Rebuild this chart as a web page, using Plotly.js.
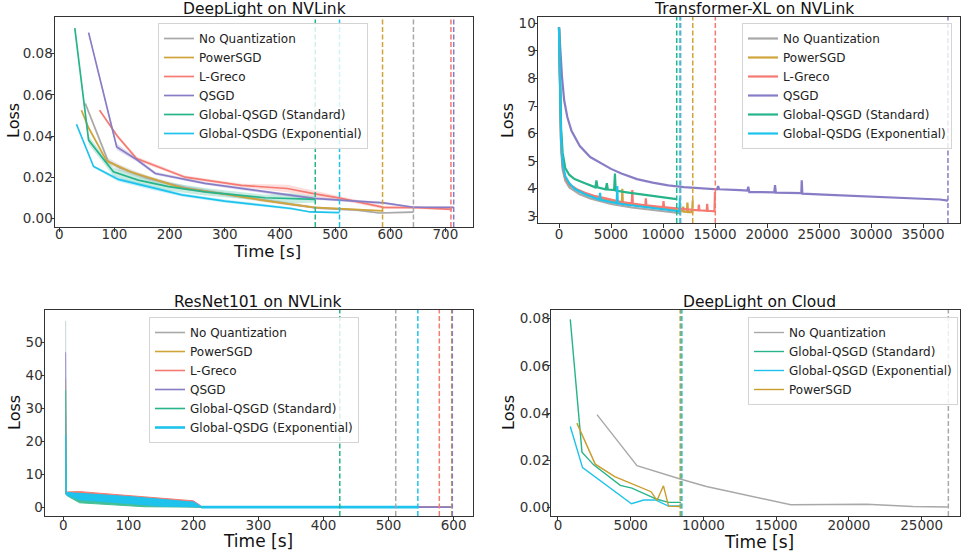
<!DOCTYPE html>
<html><head><meta charset="utf-8">
<script src="https://cdn.plot.ly/plotly-3.0.1.min.js"></script>
<style>html,body{margin:0;padding:0;background:#fff;overflow:hidden}#chart{width:962px;height:552px}</style>
</head><body><div id="chart"></div>
<script>
// ---------- series names / colours ----------
const names6 = ['No Quantization','PowerSGD','L-Greco','QSGD','Global-QSGD (Standard)','Global-QSDG (Exponential)'];
const colors6 = ['#a8a8a8','#cfa43a','#f47a72','#877dc6','#27b48a','#1dc3ec'];

// ---------- DeepLight on NVLink ----------
const dl_nq_t = [47, 88, 110, 160, 230, 330, 420, 470, 540, 580, 642];
const dl_nq_loss = [0.0558, 0.0280, 0.0245, 0.0195, 0.0148, 0.0105, 0.0068, 0.0050, 0.0040, 0.0026, 0.0030];
const dl_nq_err = [0.001, 0.0015, 0.0015, 0.0012, 0.001, 0.001, 0.0008, 0.0006, 0.0005, 0.0004, 0.0004];
const dl_psgd_t = [40, 53, 86, 130, 222, 300, 373, 461, 515, 587];
const dl_psgd_loss = [0.0525, 0.0440, 0.0278, 0.0225, 0.0148, 0.0118, 0.0086, 0.0053, 0.0046, 0.0036];
const dl_psgd_err = [0.0005, 0.0006, 0.0008, 0.0008, 0.0007, 0.0006, 0.0006, 0.0005, 0.0004, 0.0003];
const dl_lg_t = [73, 105, 140, 228, 330, 413, 461, 509, 588, 650, 712];
const dl_lg_loss = [0.0525, 0.0400, 0.0291, 0.0200, 0.0160, 0.0145, 0.0120, 0.0098, 0.0053, 0.0052, 0.0044];
const dl_lg_err = [0.0005, 0.0008, 0.001, 0.0008, 0.0008, 0.0018, 0.0015, 0.001, 0.0008, 0.0006, 0.0006];
const dl_qsgd_t = [53, 104, 140, 174, 264, 373, 461, 509, 588, 642, 715];
const dl_qsgd_loss = [0.0902, 0.0347, 0.0286, 0.0218, 0.0170, 0.0128, 0.0097, 0.0089, 0.0075, 0.0054, 0.0053];
const dl_qsgd_err = [0.0005, 0.0015, 0.001, 0.0008, 0.0007, 0.0007, 0.0007, 0.0006, 0.0006, 0.0005, 0.0005];
const dl_gstd_t = [28, 53, 98, 143, 198, 264, 373, 420, 464];
const dl_gstd_loss = [0.0924, 0.0380, 0.0226, 0.0186, 0.0154, 0.0129, 0.0100, 0.0097, 0.0092];
const dl_gstd_err = [0.0005, 0.002, 0.002, 0.0025, 0.002, 0.0018, 0.0015, 0.0025, 0.0015];
const dl_gexp_t = [31, 62, 107, 165, 222, 300, 373, 420, 455, 508];
const dl_gexp_loss = [0.0457, 0.0252, 0.0189, 0.0150, 0.0114, 0.0084, 0.0063, 0.0048, 0.0031, 0.0028];
const dl_gexp_err = [0.0004, 0.0006, 0.001, 0.001, 0.0008, 0.0008, 0.0008, 0.0006, 0.0004, 0.0003];
const dl_end_t = [642, 586, 710, 715, 464, 508];

// ---------- Transformer-XL on NVLink ----------
const txl_nq_t = [0, 80, 200, 350, 600, 1000, 2000, 3000, 5000, 7000, 9000, 10500, 11500, 11700];
const txl_nq_loss = [9.85, 7.2, 5.5, 4.7, 4.3, 4.05, 3.8, 3.65, 3.45, 3.32, 3.22, 3.15, 3.12, 3.12];
const txl_psgd_t = [0, 80, 200, 350, 600, 1000, 2000, 3000, 4500, 6050, 6090, 6130, 8000, 10000, 11500, 11900, 11950, 12000, 12300, 12350, 12400, 12800, 12860];
const txl_psgd_loss = [9.85, 7.5, 5.75, 4.85, 4.4, 4.15, 3.9, 3.75, 3.6, 3.5, 4.0, 3.5, 3.38, 3.3, 3.2, 3.18, 3.35, 3.17, 3.16, 3.5, 3.15, 3.15, 3.58];
const txl_lg_t = [0, 80, 200, 350, 600, 1000, 1700, 2500, 3500, 4600, 5400, 6000, 7000, 7050, 7100, 8300, 8350, 8400, 9500, 10000, 10050, 10100, 11000, 12000, 13400, 13450, 13500, 14200, 14250, 14300, 14950, 15000];
const txl_lg_loss = [9.85, 7.4, 5.7, 4.8, 4.4, 4.15, 3.98, 3.85, 3.73, 3.64, 3.57, 3.52, 3.47, 3.95, 3.46, 3.4, 3.65, 3.4, 3.35, 3.33, 3.55, 3.33, 3.3, 3.26, 3.22, 3.42, 3.22, 3.2, 3.45, 3.2, 3.18, 3.88];
const txl_qsgd_t = [0, 150, 300, 500, 800, 1200, 2000, 3000, 4000, 5000, 6000, 7500, 9000, 10500, 12000, 14000, 15200, 15300, 15400, 17400, 18100, 18200, 18300, 20700, 20770, 20850, 23300, 23340, 23400, 26000, 28000, 30200, 32500, 35000, 36600, 37400];
const txl_qsgd_loss = [9.85, 8.8, 8.0, 7.2, 6.6, 6.1, 5.55, 5.15, 4.92, 4.72, 4.55, 4.35, 4.22, 4.12, 4.06, 4.0, 3.98, 4.1, 3.98, 3.95, 3.93, 4.07, 3.88, 3.87, 4.13, 3.86, 3.84, 4.31, 3.82, 3.78, 3.75, 3.72, 3.68, 3.63, 3.61, 3.57];
const txl_gstd_t = [0, 80, 200, 350, 600, 1000, 1500, 2500, 3500, 3600, 3700, 4500, 4600, 4700, 5300, 5380, 5450, 6500, 7500, 8500, 9500, 10500, 11000, 11300];
const txl_gstd_loss = [9.85, 8.0, 6.2, 5.3, 4.75, 4.5, 4.35, 4.2, 4.05, 4.3, 4.05, 3.98, 4.2, 3.97, 3.95, 4.55, 3.93, 3.87, 3.82, 3.75, 3.72, 3.66, 3.63, 3.62];
const txl_gexp_t = [0, 80, 200, 350, 600, 1000, 1500, 2500, 3500, 3900, 3950, 4000, 5000, 5550, 5600, 5650, 6500, 8000, 9500, 10500, 11300, 11580, 11630];
const txl_gexp_loss = [9.85, 7.6, 5.8, 4.9, 4.45, 4.2, 4.0, 3.8, 3.65, 3.6, 3.85, 3.6, 3.52, 3.48, 4.1, 3.47, 3.42, 3.35, 3.28, 3.24, 3.2, 3.18, 3.65];
const txl_end_t = [11700, 12860, 15030, 37400, 11320, 11630];

// ---------- ResNet101 on NVLink ----------
const rn_band_t = [3.5, 4.5, 6, 25, 50, 75, 100, 125, 150, 175, 200, 212];
const rn_nq_hi   = [56.5, 4.6, 4.4, 4.3, 3.9, 3.5, 3.1, 2.7, 2.2, 1.8, 1.4, 0.2];
const rn_nq_lo   = [4.2, 4.0, 3.8, 2.3, 1.8, 1.4, 1.0, 0.7, 0.4, 0.3, 0.2, 0.1];
const rn_psgd_hi = [39, 4.6, 4.5, 4.4, 4.0, 3.6, 3.2, 2.8, 2.4, 2.0, 1.6, 0.3];
const rn_psgd_lo = [4.2, 4.0, 3.8, 2.2, 1.8, 1.3, 1.0, 0.7, 0.4, 0.3, 0.2, 0.1];
const rn_lg_hi   = [28, 4.7, 4.7, 4.8, 4.4, 4.0, 3.6, 3.2, 2.8, 2.4, 2.0, 0.4];
const rn_lg_lo   = [4.2, 4.0, 3.9, 2.5, 2.0, 1.6, 1.2, 0.9, 0.6, 0.4, 0.3, 0.1];
const rn_qsgd_hi = [47, 4.5, 4.3, 4.0, 3.6, 3.2, 2.8, 2.4, 2.0, 1.7, 1.8, 0.2];
const rn_qsgd_lo = [4.2, 4.0, 3.7, 2.0, 1.6, 1.2, 0.9, 0.5, 0.3, 0.2, 0.2, 0.1];
const rn_gstd_hi = [35.5, 4.5, 4.2, 3.9, 3.5, 3.1, 2.6, 2.2, 1.6, 1.2, 0.9, 0.1];
const rn_gstd_lo = [4.0, 3.8, 3.5, 1.4, 1.1, 0.8, 0.5, 0.2, 0.1, 0.1, 0.1, 0.05];
const rn_gexp_hi = [22, 4.6, 4.5, 4.3, 3.9, 3.6, 3.3, 2.9, 2.5, 2.0, 1.6, 0.3];
const rn_gexp_lo = [4.2, 4.0, 3.7, 2.3, 1.9, 1.5, 1.2, 0.8, 0.4, 0.3, 0.2, 0.1];
const rn_tail_start = 212;
const rn_tail_loss = [0.1, 0.1, 0.1, 0.1, 0.1, 0.1];
const rn_end_t = [511, 597, 578, 598, 425, 545];

// ---------- DeepLight on Cloud ----------
const names4 = ['No Quantization','Global-QSGD (Standard)','Global-QSGD (Exponential)','PowerSGD'];
const colors4 = ['#a8a8a8','#27b48a','#1dc3ec','#c99c2c'];
const dc_nq_t = [2680, 5430, 8400, 10200, 16000, 21200, 24400, 26800];
const dc_nq_loss = [0.0393, 0.0177, 0.0120, 0.0088, 0.0011, 0.0013, 0.0003, 0.0001];
const dc_gstd_t = [845, 1650, 2450, 4280, 5080, 6340, 6800, 7600, 8450];
const dc_gstd_loss = [0.0797, 0.0234, 0.0180, 0.0093, 0.0081, 0.0046, 0.0034, 0.0021, 0.0021];
const dc_gexp_t = [845, 1690, 5050, 5900, 6700, 7550, 8500];
const dc_gexp_loss = [0.0343, 0.0168, 0.0015, 0.0031, 0.0031, 0.0006, 0.0006];
const dc_psgd_t = [1300, 2560, 3900, 6400, 6800, 7250, 7600, 8400];
const dc_psgd_loss = [0.0357, 0.0183, 0.0130, 0.0066, 0.0029, 0.0091, 0.0005, 0.0003];
const dc_end_t = [26830, 8450, 8515, 8400];

// ---------- helpers ----------
const FONT = 'DejaVu Sans, sans-serif';
function rgba(hex, a){const n=parseInt(hex.slice(1),16);return `rgba(${n>>16},${(n>>8)&255},${n&255},${a})`;}
const traces = [];
const shapes = [];
function line(x, y, color, name, xa, ya, leg, width, show){
  traces.push({type:'scatter', mode:'lines', x:x, y:y, name:name, xaxis:xa, yaxis:ya, legend:leg,
    showlegend:show!==false, line:{color:color, width:width||1.6}, hoverinfo:'skip'});
}
function poly(x, hi, lo, color, xa, ya, lw){
  traces.push({type:'scatter', mode:'lines', x:x.concat(x.slice().reverse()), y:hi.concat(lo.slice().reverse()),
    fill:'toself', fillcolor:color, line:{color:color, width:lw||0}, xaxis:xa, yaxis:ya, showlegend:false, hoverinfo:'skip'});
}
function vline(v, color, xa, yd){
  shapes.push({type:'line', xref:xa, yref:yd, x0:v, x1:v, y0:0, y1:1, layer:'above',
    line:{color:color, width:1.5, dash:'5px,2.5px'}});
}

// subplot 1
const dlT=[dl_nq_t,dl_psgd_t,dl_lg_t,dl_qsgd_t,dl_gstd_t,dl_gexp_t];
const dlL=[dl_nq_loss,dl_psgd_loss,dl_lg_loss,dl_qsgd_loss,dl_gstd_loss,dl_gexp_loss];
const dlE=[dl_nq_err,dl_psgd_err,dl_lg_err,dl_qsgd_err,dl_gstd_err,dl_gexp_err];
for(let i=0;i<6;i++){
  poly(dlT[i], dlL[i].map((v,k)=>v+dlE[i][k]), dlL[i].map((v,k)=>v-dlE[i][k]), rgba(colors6[i],0.25), 'x','y');
}
for(let i=0;i<6;i++) line(dlT[i], dlL[i], colors6[i], names6[i], 'x','y','legend',1.7);
for(let i=0;i<6;i++) vline(dl_end_t[i], colors6[i], 'x','y domain');

// subplot 2
const txT=[txl_nq_t,txl_psgd_t,txl_lg_t,txl_qsgd_t,txl_gstd_t,txl_gexp_t];
const txL=[txl_nq_loss,txl_psgd_loss,txl_lg_loss,txl_qsgd_loss,txl_gstd_loss,txl_gexp_loss];
for(let i=0;i<6;i++) line(txT[i], txL[i], colors6[i], names6[i], 'x2','y2','legend2',2.2);
for(let i=0;i<6;i++) vline(txl_end_t[i], colors6[i], 'x2','y2 domain');

// subplot 3
const rnH=[rn_nq_hi,rn_psgd_hi,rn_lg_hi,rn_qsgd_hi,rn_gstd_hi,rn_gexp_hi];
const rnL=[rn_nq_lo,rn_psgd_lo,rn_lg_lo,rn_qsgd_lo,rn_gstd_lo,rn_gexp_lo];
const rnFill=['#c9d7da','#cfa43a','#f47a72','#9a91d0','#43bf98','#1dc3ec'];
for(let i=0;i<6;i++) poly(rn_band_t, rnH[i], rnL[i], rnFill[i], 'x3','y3',1);
for(let i=0;i<6;i++) line([rn_tail_start, rn_end_t[i]], [rn_tail_loss[i], rn_tail_loss[i]], colors6[i], names6[i], 'x3','y3','legend3', i===5?2.6:1.6);
for(let i=0;i<6;i++) vline(rn_end_t[i], colors6[i], 'x3','y3 domain');

// subplot 4
const dcT=[dc_nq_t,dc_gstd_t,dc_gexp_t,dc_psgd_t];
const dcL=[dc_nq_loss,dc_gstd_loss,dc_gexp_loss,dc_psgd_loss];
for(let i=0;i<4;i++) line(dcT[i], dcL[i], colors4[i], names4[i], 'x4','y4','legend4',1.4);
for(let i=0;i<4;i++) vline(dc_end_t[i], colors4[i], 'x4','y4 domain');

// ---------- layout ----------
const W=962, H=552;
function dx(a,b){return [a/W, b/W];}
function dy(top,bot){return [1-bot/H, 1-top/H];}
function axis(domain, range, dtick, fmt, anchor, standoff){
  return {domain:domain, range:range, dtick:dtick, tick0:0, tickformat:fmt, anchor:anchor,
    showline:true, mirror:true, linecolor:'#333', linewidth:1, ticks:'outside', ticklen:3.5, tickcolor:'#333',
    ticklabelstandoff:standoff,
    tickfont:{family:FONT, size:13.5, color:'#333'}, showgrid:false, zeroline:false};
}
function legend(xpx, ypx){
  return {x:xpx/W, y:1-ypx/H, xref:'paper', yref:'paper', xanchor:'left', yanchor:'top',
    bgcolor:'rgba(255,255,255,0.8)', bordercolor:'#d4d4d4', borderwidth:1,
    font:{family:FONT, size:12, color:'#222'}, itemwidth:30, tracegroupgap:0};
}
// [text, x px, y px, size, angle]
const texts = [
  ['DeepLight on NVLink', 264, 8.5, 15.5, 0],
  ['Transformer-XL on NVLink', 754, 8.5, 15.5, 0],
  ['ResNet101 on NVLink', 258, 301.5, 15.5, 0],
  ['DeepLight on Cloud', 759, 301.5, 15.5, 0],
  ['Time [s]', 267, 251, 16.5, 0],
  ['Time [s]', 258, 541, 17, 0],
  ['Time [s]', 759, 542, 17, 0],
  ['Loss', 14, 121, 16, -90],
  ['Loss', 508, 121, 16, -90],
  ['Loss', 14, 413, 16, -90],
  ['Loss', 508, 413, 16, -90]
];
const layout = {
  width:W, height:H, margin:{l:0,r:0,t:0,b:0}, paper_bgcolor:'#fff', plot_bgcolor:'#fff',
  font:{family:FONT, color:'#222'}, showlegend:true,
  xaxis: axis(dx(55,473), [-7.9, 750], 100, 'd', 'y', -9),
  yaxis: axis(dy(17,227), [-0.0042, 0.0978], 0.02, '.2f', 'x', -5),
  xaxis2: axis(dx(538,960), [-2019, 38558], 5000, 'd', 'y2', -5),
  yaxis2: axis(dy(17,223), [2.757, 10.23], 1, 'd', 'x2', -5),
  xaxis3: axis(dx(45,473), [-28.2, 629.8], 100, 'd', 'y3', -7),
  yaxis3: axis(dy(310,516), [-2.6, 59.8], 10, 'd', 'x3', -5),
  xaxis4: axis(dx(551,960), [-480, 27630], 5000, 'd', 'y4', -7),
  yaxis4: axis(dy(310,516), [-0.0037, 0.0837], 0.02, '.2f', 'x4', -6),
  legend: legend(158, 23),
  legend2: legend(742, 23),
  legend3: legend(149, 317),
  legend4: legend(748, 317),
  shapes: shapes,
  annotations: texts.map(t=>({text:t[0], x:t[1]/W, y:1-t[2]/H, xref:'paper', yref:'paper',
    xanchor:'center', yanchor:'middle', textangle:t[4], showarrow:false,
    font:{family:FONT, size:t[3], color:'#111'}}))
};
Plotly.newPlot('chart', traces, layout, {staticPlot:true, displayModeBar:false});
</script>
</body></html>
